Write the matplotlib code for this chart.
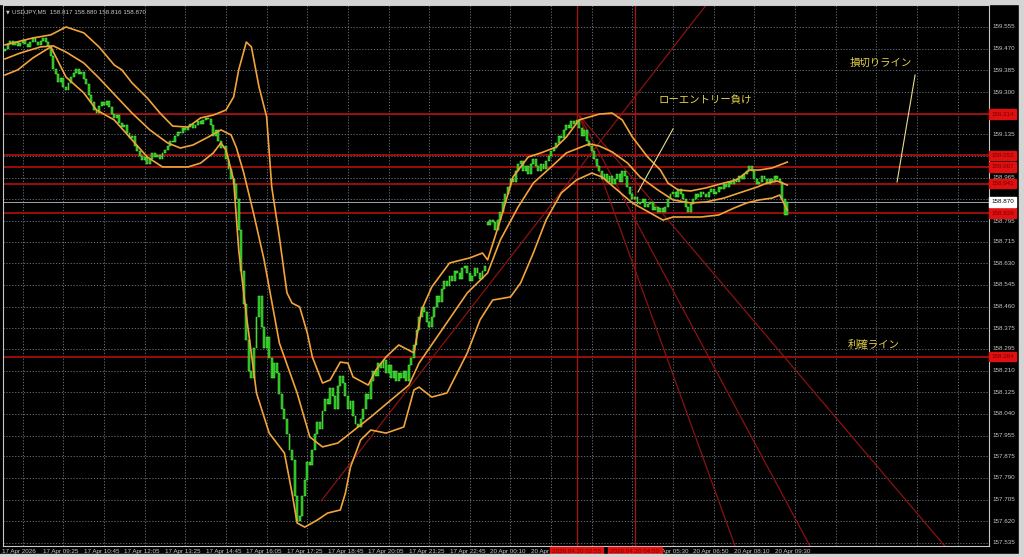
import numpy as np
import matplotlib
matplotlib.use('Agg')
import matplotlib.pyplot as plt
from matplotlib.patches import Rectangle

plt.rcParams['font.family'] = ['Liberation Sans', 'DejaVu Sans']

# USDJPY M5 closes, 17 Apr 08:05 -> 20 Apr 09:45 (one value per bar)
first_open = 159.460
closes = [
    159.470, 159.490, 159.500, 159.485, 159.495, 159.480, 159.492, 159.505, 159.488, 159.478,
    159.495, 159.510, 159.498, 159.485, 159.500, 159.512, 159.495, 159.480, 159.440, 159.390,
    159.370, 159.340, 159.355, 159.320, 159.310, 159.335, 159.360, 159.375, 159.390, 159.370,
    159.380, 159.350, 159.330, 159.290, 159.260, 159.230, 159.220, 159.245, 159.260, 159.250,
    159.265, 159.240, 159.215, 159.200, 159.210, 159.180, 159.165, 159.170, 159.140, 159.120,
    159.130, 159.090, 159.070, 159.050, 159.035, 159.045, 159.020, 159.040, 159.060, 159.045,
    159.055, 159.040, 159.060, 159.075, 159.090, 159.110, 159.105, 159.130, 159.145, 159.140,
    159.160, 159.150, 159.165, 159.175, 159.160, 159.170, 159.185, 159.175, 159.190, 159.200,
    159.195, 159.170, 159.130, 159.150, 159.110, 159.080, 159.090, 159.040, 159.000, 158.960,
    158.940, 158.880, 158.760, 158.600, 158.470, 158.330, 158.210, 158.180, 158.300, 158.420,
    158.500, 158.380, 158.300, 158.340, 158.260, 158.180, 158.240, 158.200, 158.120, 158.060,
    158.020, 157.960, 157.900, 157.860, 157.720, 157.620, 157.640, 157.720, 157.780, 157.850,
    157.840, 157.900, 157.960, 158.010, 157.980, 158.050, 158.100, 158.080, 158.140, 158.110,
    158.060, 158.150, 158.190, 158.160, 158.110, 158.060, 158.090, 158.030, 158.000, 157.990,
    158.020, 158.060, 158.120, 158.100, 158.170, 158.210, 158.190, 158.240, 158.220, 158.250,
    158.200, 158.230, 158.180, 158.210, 158.170, 158.200, 158.180, 158.210, 158.170, 158.230,
    158.260, 158.310, 158.370, 158.420, 158.460, 158.440, 158.400, 158.380, 158.420, 158.460,
    158.500, 158.480, 158.530, 158.560, 158.540, 158.580, 158.560, 158.600, 158.590, 158.570,
    158.610, 158.620, 158.590, 158.560, 158.580, 158.610, 158.590, 158.570, 158.600, 158.620,
    158.780, 158.800, 158.790, 158.760, 158.800, 158.830, 158.870, 158.900, 158.930, 158.960,
    158.950, 158.990, 159.020, 159.030, 158.990, 159.010, 158.980, 159.020, 159.040, 159.010,
    158.990, 159.020, 159.000, 159.030, 159.050, 159.070, 159.080, 159.100, 159.130, 159.120,
    159.150, 159.170, 159.160, 159.185, 159.175, 159.190, 159.160, 159.130, 159.150, 159.110,
    159.090, 159.070, 159.040, 159.010, 158.990, 158.960, 158.980, 158.950, 158.970, 158.940,
    158.960, 158.980, 158.950, 158.990, 158.970, 158.930, 158.900, 158.880, 158.890, 158.860,
    158.870, 158.880, 158.850, 158.860, 158.870, 158.840, 158.850, 158.830, 158.845, 158.830,
    158.850, 158.880, 158.900, 158.910, 158.890, 158.920, 158.900, 158.880, 158.850, 158.830,
    158.860, 158.880, 158.900, 158.890, 158.910, 158.900, 158.890, 158.910, 158.920, 158.900,
    158.910, 158.930, 158.920, 158.940, 158.930, 158.950, 158.940, 158.960, 158.950, 158.970,
    158.960, 158.980, 158.990, 159.010, 158.990, 158.960, 158.940, 158.950, 158.970, 158.960,
    158.940, 158.960, 158.950, 158.970, 158.960, 158.950, 158.880, 158.817, 158.870,
]
# monday open (weekend gap)
gap_open = {190: 158.790}

# bollinger bands (bar index, price)
upper_x = [0, 11, 18, 24, 31, 37, 43, 46, 50, 56, 61, 66, 72, 77, 82, 87, 90, 92, 95, 97,
           100, 103, 105, 108, 111, 113, 116, 119, 121, 125, 128, 132, 135, 137, 143, 146, 150, 155, 161, 164,
           168, 175, 183, 188, 190, 195, 200, 206, 211, 217, 221, 226, 234, 239, 243, 247, 253, 258, 261, 265,
           270, 276, 283, 288, 293, 297, 302, 308]
upper_y = [159.485, 159.512, 159.524, 159.555, 159.532, 159.477, 159.406, 159.387, 159.336, 159.277,
           159.218, 159.167, 159.163, 159.199, 159.210, 159.230, 159.281, 159.387, 159.496, 159.477,
           159.320, 159.203, 158.929, 158.733, 158.514, 158.474, 158.459, 158.357, 158.263, 158.161,
           158.173, 158.243, 158.239, 158.185, 158.153, 158.212, 158.263, 158.310, 158.279, 158.447,
           158.537, 158.631, 158.651, 158.670, 158.643, 158.799, 158.968, 159.046, 159.062, 159.085,
           159.124, 159.191, 159.214, 159.218, 159.191, 159.124, 159.046, 158.995, 158.944, 158.917,
           158.913, 158.925, 158.944, 158.956, 158.995, 158.995, 159.003, 159.026]
mid_x = [0, 6, 14, 19, 24, 31, 37, 44, 50, 57, 64, 69, 74, 80, 85, 89, 91, 94, 98, 102,
         108, 115, 120, 125, 131, 139, 144, 152, 159, 163, 172, 182, 190, 195, 202, 208, 215, 221, 230, 234,
         239, 245, 250, 257, 263, 270, 276, 283, 289, 296, 300, 304, 308]
mid_y = [159.430, 159.453, 159.477, 159.481, 159.457, 159.414, 159.355, 159.281, 159.218, 159.152,
         159.101, 159.081, 159.093, 159.124, 159.152, 159.132, 159.085, 158.983, 158.819, 158.643,
         158.318, 158.122, 157.950, 157.911, 157.926, 157.989, 158.028, 158.095, 158.153, 158.239,
         158.369, 158.514, 158.592, 158.721, 158.850, 158.944, 159.007, 159.062, 159.097, 159.089,
         159.066, 159.023, 158.968, 158.917, 158.878, 158.866, 158.870, 158.885, 158.905, 158.928,
         158.944, 158.952, 158.936]
lower_x = [0, 5, 11, 18, 20, 24, 31, 36, 43, 50, 56, 62, 72, 77, 82, 85, 87, 90, 92, 95,
           99, 104, 110, 113, 115, 118, 123, 127, 132, 134, 136, 140, 144, 150, 157, 161, 163, 168, 174, 182,
           187, 192, 199, 203, 208, 213, 219, 225, 231, 235, 241, 247, 254, 259, 263, 274, 281, 287, 292, 297,
           302, 305, 308]
lower_y = [159.367, 159.387, 159.434, 159.477, 159.438, 159.359, 159.297, 159.230, 159.191, 159.113,
           159.046, 159.007, 159.007, 159.022, 159.062, 159.101, 159.073, 158.956, 158.682, 158.427,
           158.122, 157.965, 157.887, 157.730, 157.613, 157.597, 157.625, 157.652, 157.664, 157.730,
           157.832, 157.938, 157.977, 157.965, 157.989, 158.134, 158.145, 158.106, 158.122, 158.279,
           158.408, 158.486, 158.498, 158.553, 158.670, 158.799, 158.905, 158.956, 158.983, 158.968,
           158.917, 158.866, 158.827, 158.799, 158.811, 158.811, 158.819, 158.846, 158.866, 158.878,
           158.885, 158.897, 158.838]

# drawn objects
hline_prices = [159.214, 159.052, 159.007, 158.941, 158.826, 158.264]
vline_bars = [225, 248]
vline_labels = ['2026.04.20 02:55', '2026.04.20 04:50']
current_price = 158.870
rise_line = [(124.5, 157.700), (226.0, 159.000)]
fan_origin = (226.0, 159.210)
fan_ends = [(287.4, 157.523), (316.9, 157.523), (370.0, 157.523)]

price_labels = ['159.555', '159.470', '159.385', '159.300', '159.215', '159.135', '159.050',
                '158.965', '158.880', '158.795', '158.715', '158.630', '158.545', '158.460',
                '158.375', '158.295', '158.210', '158.125', '158.040', '157.955', '157.875',
                '157.790', '157.705', '157.620', '157.535']
time_labels = ['17 Apr 2026', '17 Apr 09:25', '17 Apr 10:45', '17 Apr 12:05', '17 Apr 13:25',
               '17 Apr 14:45', '17 Apr 16:05', '17 Apr 17:25', '17 Apr 18:45', '17 Apr 20:05',
               '17 Apr 21:25', '17 Apr 22:45', '20 Apr 00:10', '20 Apr 01:30', '20 Apr 02:50',
               '20 Apr 04:10', '20 Apr 05:30', '20 Apr 06:50', '20 Apr 08:10', '20 Apr 09:30']

notes = ['ローエントリー負け', '損切りライン', '利確ライン']
note_pos = [(257.1, 159.269), (332.7, 159.414), (331.9, 158.310)]
note_lines = [[(249.2, 158.909), (263.0, 159.156)], [(358.3, 159.367), (351.2, 158.948)]]

W, H = 1024, 557
fig = plt.figure(figsize=(W / 100, H / 100), dpi=100, facecolor='black')
ax = fig.add_axes([3 / W, 11 / H, 986 / W, 541 / H])
ax.set_facecolor('black')
x_lo, x_hi = -0.8, 387.4
y_lo, y_hi = 157.523, 159.641
ax.set_xlim(x_lo, x_hi)
ax.set_ylim(y_lo, y_hi)
ax.set_xticks([])
ax.set_yticks([])
for s in ax.spines.values():
    s.set_color('#c8c8c8')
    s.set_linewidth(0.8)

# window frame bits
fig.patches.append(Rectangle((0, 1 - 4 / H), 1, 4 / H, transform=fig.transFigure, color='#d4d4d4', zorder=0))
fig.patches.append(Rectangle((1 - 5 / W, 0), 5 / W, 1, transform=fig.transFigure, color='#d4d4d4', zorder=0))
fig.patches.append(Rectangle((0, 0), 1, 3 / H, transform=fig.transFigure, color='#d4d4d4', zorder=0))

grid_kw = dict(color='#6f7c88', linestyle=(0, (1.5, 2.0)), linewidth=0.6, zorder=1)
for lab in price_labels:
    ax.axhline(float(lab), **grid_kw)
for k in range(len(time_labels) + 5):
    ax.axvline(16 * k + 7, **grid_kw)

# horizontal / vertical objects
for p in hline_prices:
    ax.axhline(p, color='#b40f0f', linewidth=1.2, zorder=2)
for b in vline_bars:
    ax.axvline(b, color='#9c1414', linewidth=1.0, zorder=2)
ax.axhline(current_price, color='#a0a4aa', linewidth=0.7, zorder=2)

# trend / fan lines
(x0, y0), (x1, y1) = rise_line
slope = (y1 - y0) / (x1 - x0)
ax.plot([x0, x0 + (y_hi + 0.1 - y0) / slope], [y0, y_hi + 0.1], color='#8a1212', lw=0.9, zorder=2)
for ex, ey in fan_ends:
    ax.plot([fan_origin[0], ex], [fan_origin[1], ey], color='#8a1212', lw=0.9, zorder=2)

# candles
idx = np.arange(len(closes))
opens = np.r_[first_open, closes[:-1]]
for b, v in gap_open.items():
    opens[b] = v
cl = np.array(closes)
lo = np.minimum(opens, cl)
hgt = np.maximum(np.abs(cl - opens), 0.004)
ax.bar(idx, hgt, bottom=lo, width=0.75, color='#19b419', edgecolor='#6cff50', linewidth=0.35, zorder=4)

# bands
band_kw = dict(color='#f2a43a', linewidth=1.2, zorder=5)
ax.plot(upper_x, upper_y, **band_kw)
ax.plot(mid_x, mid_y, **band_kw)
ax.plot(lower_x, lower_y, **band_kw)

# notes
jp = ['Noto Sans CJK JP', 'DejaVu Sans']
for t, (bx, py) in zip(notes, note_pos):
    ax.text(bx, py, t, color='#e6d24a', fontsize=7.5, family=jp, va='center', ha='left', zorder=6)
for seg in note_lines:
    ax.plot([seg[0][0], seg[1][0]], [seg[0][1], seg[1][1]], color='#e8dc8a', lw=0.8, zorder=6)

# price scale (labels sitting under an object's price box are not drawn, as in the terminal)
fs = 4.5
ytr = ax.get_yaxis_transform()
boxed = hline_prices + [current_price]
for lab in price_labels:
    if min(abs(float(lab) - p) for p in boxed) < 0.012:
        continue
    ax.text(1.004, float(lab), lab, transform=ytr, color='#c8c8c8', fontsize=fs,
            va='center', ha='left', clip_on=False)
for p in hline_prices:
    ax.text(1.002, p, f'{p:.3f}', transform=ytr, color='#7a0000', fontsize=fs, va='center', ha='left',
            clip_on=False, zorder=8,
            bbox=dict(boxstyle='square,pad=0.35', fc='#e01010', ec='#e01010'))
ax.text(1.002, current_price, f'{current_price:.3f}', transform=ytr, color='black', fontsize=fs,
        va='center', ha='left', clip_on=False, zorder=8,
        bbox=dict(boxstyle='square,pad=0.35', fc='white', ec='white'))

# time scale
xtr = ax.get_xaxis_transform()
for k, lab in enumerate(time_labels):
    start = 16 * k - 1.0
    if any(start >= b - 10 and start + 12.5 <= b + 11 for b in vline_bars):
        continue
    ax.text(start, -0.011, lab, transform=xtr, color='#c8c8c8', fontsize=fs,
            va='center', ha='left', clip_on=False)
for b, lab in zip(vline_bars, vline_labels):
    ax.text(b, -0.011, lab, transform=xtr, color='#7a0000', fontsize=fs, va='center', ha='center',
            clip_on=False, zorder=8,
            bbox=dict(boxstyle='square,pad=0.35', fc='#e01010', ec='#e01010'))

# header
ax.text(0.0035, 0.988, '▼', transform=ax.transAxes, color='#c8c8c8', fontsize=3.5, va='center', ha='left',
        family='DejaVu Sans')
ax.text(0.0095, 0.988, 'USDJPY,M5  158.817 158.880 158.816 158.870', transform=ax.transAxes,
        color='#c8c8c8', fontsize=fs, va='center', ha='left')

fig.savefig('out.png', dpi=100, facecolor='black')
